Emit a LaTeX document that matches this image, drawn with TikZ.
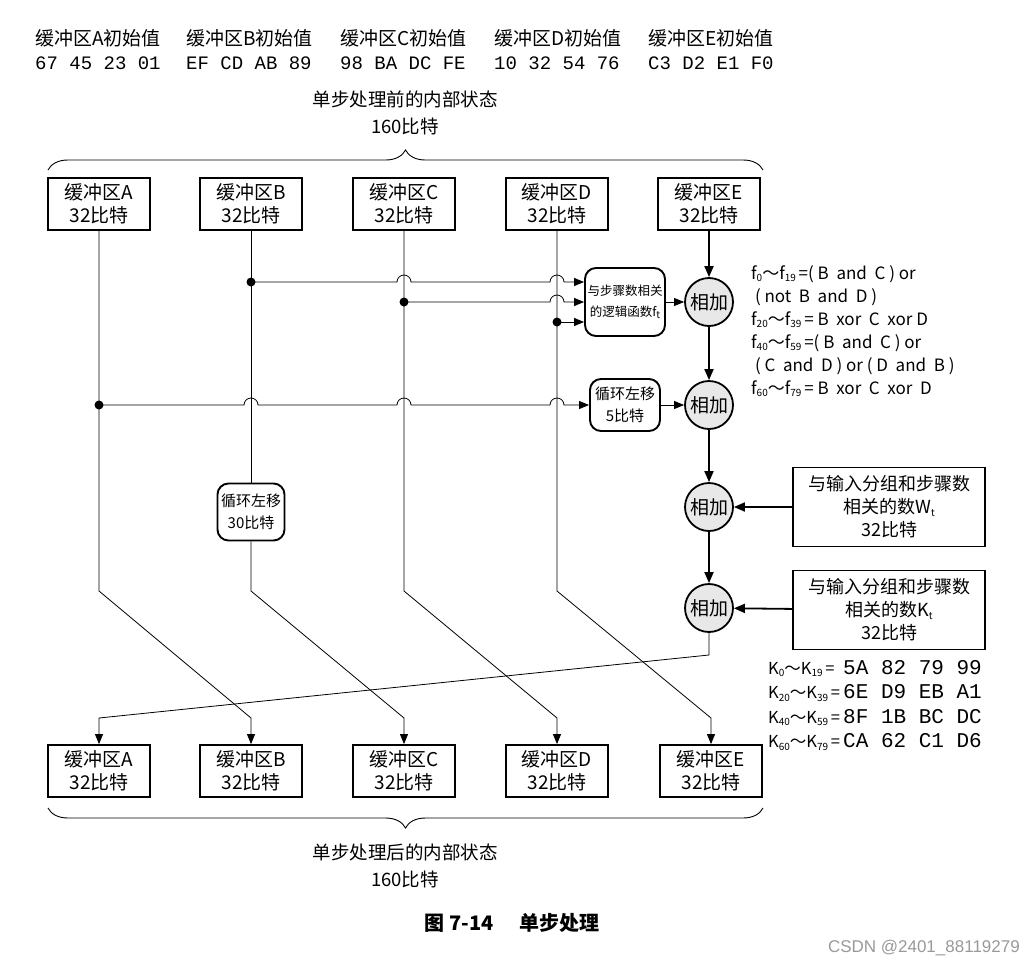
\documentclass[tikz,border=0pt]{standalone}
\usepackage{fontspec}
\setmainfont{Noto Sans CJK SC}
\newfontfamily\hexfont{Liberation Mono}
\newfontfamily\wmfont{Liberation Sans}
\usetikzlibrary{arrows.meta,decorations.pathreplacing,calc}
\newcommand\sub[1]{\raisebox{-0.3ex}{\fontsize{10}{10}\selectfont #1}}
\newcommand\krow[3]{\makebox[75pt][l]{K\sub{#1}～K\sub{#2}\,=}{\hexfont\fontsize{21}{24}\selectfont #3}}

\begin{document}
\begin{tikzpicture}[x=1pt,y=-1pt,
    buf/.style={draw, line width=1.8pt, minimum width=102pt, minimum height=52pt, inner sep=0pt, align=center, font=\fontsize{19}{23.5}\selectfont},
    fun/.style={draw, line width=1.9pt, rounded corners=11pt, inner sep=0pt, align=center},
    adder/.style={draw, circle, line width=1.8pt, fill=black!9, minimum size=48pt, inner sep=0pt, font=\fontsize{19}{19}\selectfont},
    inbox/.style={draw, line width=1.8pt, minimum width=192pt, minimum height=79pt, inner sep=0pt, align=center, font=\fontsize{18}{23}\selectfont},
    wire/.style={line width=0.8pt},
    wirearr/.style={wire, -{Triangle[length=10pt,width=8pt]}},
    busarr/.style={line width=1.8pt, -{Triangle[length=11pt,width=9pt]}},
    lbl/.style={inner sep=0pt, align=center, font=\fontsize{18.5}{27}\selectfont}]

    \useasboundingbox (0,0) rectangle (1025,969);

    % initial values
    \foreach \n/\x/\v in {A/35/67 45 23 01, B/186/EF CD AB 89, C/340/98 BA DC FE, D/494/10 32 54 76, E/648/C3 D2 E1 F0}{
        \node[anchor=west, inner sep=0pt, font=\fontsize{19}{19}\selectfont] (h\n) at (\x,38) {缓冲区\n{}初始值};
        \node[anchor=west, inner sep=0pt, font=\hexfont\fontsize{19}{19}\selectfont] (v\n) at (\x,63) {\v};
    }

    % state before
    \node[lbl] (before) at (405,113) {单步处理前的内部状态\\160比特};
    \draw[line width=0.9pt, decorate, decoration={brace, amplitude=20pt}] (48,170) -- (763,170);

    % buffers
    \node[buf] (tA) at (99,204) {缓冲区A\\32比特};
    \node[buf] (tB) at (251,204) {缓冲区B\\32比特};
    \node[buf] (tC) at (404,204) {缓冲区C\\32比特};
    \node[buf] (tD) at (557,204) {缓冲区D\\32比特};
    \node[buf] (tE) at (709,204) {缓冲区E\\32比特};

    \node[buf] (bA) at (99,771) {缓冲区A\\32比特};
    \node[buf] (bB) at (251,771) {缓冲区B\\32比特};
    \node[buf] (bC) at (404,771) {缓冲区C\\32比特};
    \node[buf] (bD) at (557,771) {缓冲区D\\32比特};
    \node[buf] (bE) at (711,771) {缓冲区E\\32比特};

    % operations
    \node[fun, minimum width=80pt, minimum height=68pt, font=\fontsize{12.5}{21}\selectfont] (fbox) at (625,302) {与步骤数相关\\的逻辑函数f\sub{t}};
    \node[fun, minimum width=70pt, minimum height=52pt, font=\fontsize{15}{22}\selectfont] (rot5) at (625,405) {循环左移\\5比特};
    \node[fun, minimum width=67pt, minimum height=57pt, font=\fontsize{15}{22}\selectfont] (rot30) at (251,512) {循环左移\\30比特};

    \node[adder] (ad1) at (709,302) {相加};
    \node[adder] (ad2) at (709,405) {相加};
    \node[adder] (ad3) at (709,507) {相加};
    \node[adder] (ad4) at (709,608) {相加};

    \node[inbox] (wbox) at (889,507) {与输入分组和步骤数\\相关的数W\sub{t}\\32比特};
    \node[inbox] (kbox) at (889,610) {与输入分组和步骤数\\相关的数K\sub{t}\\32比特};

    % branch points
    \coordinate (jB) at (251,282);
    \coordinate (jC) at (404,302);
    \coordinate (jD) at (557,322);
    \coordinate (jA) at (99,405);
    \coordinate (high) at (0,591);
    \coordinate (low) at (0,718);
    \coordinate (turn) at (709,655);

    % inputs of f
    \draw[wirearr] (jB) -- ($(jB -| tC)+(-7,0)$) arc[start angle=180, end angle=360, radius=7]
        -- ($(jB -| tD)+(-7,0)$) arc[start angle=180, end angle=360, radius=7] -- (fbox.west |- jB);
    \draw[wirearr] (jC) -- ($(jC -| tD)+(-7,0)$) arc[start angle=180, end angle=360, radius=7] -- (fbox.west |- jC);
    \draw[wirearr] (jD) -- (fbox.west |- jD);
    \draw[wirearr] (jA) -- ($(jA -| tB)+(-7,0)$) arc[start angle=180, end angle=360, radius=7]
        -- ($(jA -| tC)+(-7,0)$) arc[start angle=180, end angle=360, radius=7]
        -- ($(jA -| tD)+(-7,0)$) arc[start angle=180, end angle=360, radius=7] -- (rot5);
    \fill (jA) circle (4.5) (jB) circle (4.5) (jC) circle (4.5) (jD) circle (4.5);

    % shifted buffers
    \draw[wirearr] (tA) -- (tA |- high) -- (bB |- low) -- (bB);
    \draw[wire] (tB) -- (rot30);
    \draw[wirearr] (rot30) -- (tB |- high) -- (bC |- low) -- (bC);
    \draw[wirearr] (tC) -- (tC |- high) -- (bD |- low) -- (bD);
    \draw[wirearr] (tD) -- (tD |- high) -- (bE |- low) -- (bE);

    % adders
    \draw[busarr] (tE) -- (ad1);
    \draw[busarr] (ad1) -- (ad2);
    \draw[busarr] (ad2) -- (ad3);
    \draw[busarr] (ad3) -- (ad4);
    \draw[wirearr] (fbox) -- (ad1);
    \draw[wirearr] (rot5) -- (ad2);
    \draw[busarr] (wbox) -- (ad3);
    \draw[busarr] (kbox) -- (ad4);
    \draw[wirearr] (ad4) -- (turn) -- (bA |- low) -- (bA);

    % functions and constants
    \node[anchor=north west, inner sep=0pt, align=left, font=\fontsize{17}{23}\selectfont] (ftext) at (751,265)
        {f\sub{0}～f\sub{19}\,=( B\ \ and\ \ C ) or\\
         \ ( not\ \ B\ \ and\ \ D )\\
         f\sub{20}～f\sub{39}\,= B\ \ xor\ \ C\ \ xor D\\
         f\sub{40}～f\sub{59}\,=( B\ \ and\ \ C ) or\\
         \ ( C\ \ and\ \ D ) or ( D\ \ and\ \ B )\\
         f\sub{60}～f\sub{79}\,= B\ \ xor\ \ C\ \ xor\ \ D};
    \node[anchor=north west, inner sep=0pt, align=left, font=\fontsize{16.5}{24.5}\selectfont] (ktext) at (768,660)
        {\krow{0}{19}{5A 82 79 99}\\
         \krow{20}{39}{6E D9 EB A1}\\
         \krow{40}{59}{8F 1B BC DC}\\
         \krow{60}{79}{CA 62 C1 D6}};

    % state after
    \draw[line width=0.9pt, decorate, decoration={brace, amplitude=20pt}] (763,808) -- (48,808);
    \node[lbl] (after) at (405,866) {单步处理后的内部状态\\160比特};

    \node[inner sep=0pt, font=\bfseries\fontsize{20}{20}\selectfont] (caption) at (512,923) {图 7-14\hspace{1.3em}单步处理};
    \node[anchor=east, inner sep=0pt, text=black!40, font=\wmfont\fontsize{17}{17}\selectfont] (mark) at (1020,948) {CSDN @2401\_88119279};
\end{tikzpicture}
\end{document}
